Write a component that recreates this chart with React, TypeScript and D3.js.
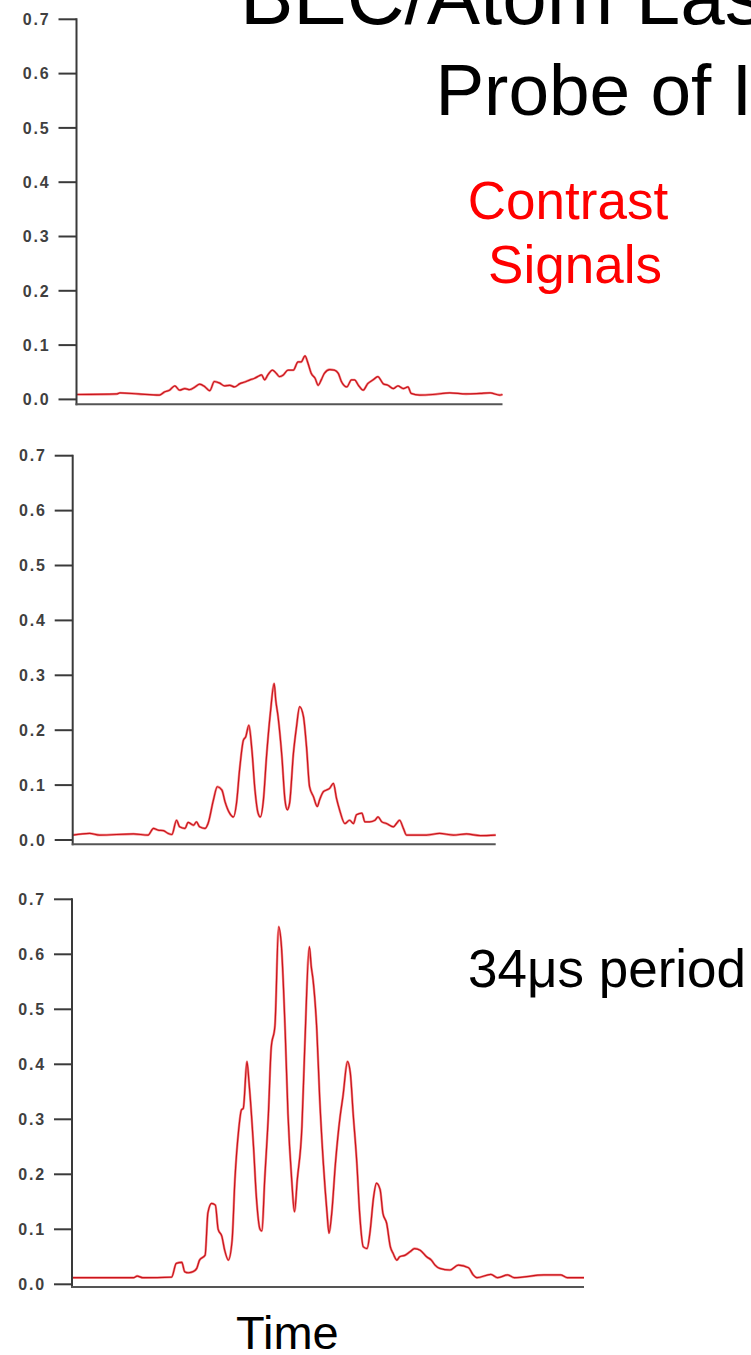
import React from "react";
import * as d3 from "d3";

// ---- data (time in µs, signal contrast) ----
const yTicks = [0, 0.1, 0.2, 0.3, 0.4, 0.5, 0.6, 0.7];
const timeDomain = [0, 550];

const signalTop: [number, number][] = [
  [0, 0.009], [52, 0.010], [56, 0.012], [80, 0.010], [107, 0.008], [114, 0.014], [120, 0.017],
  [127, 0.025], [133, 0.017], [140, 0.020], [146, 0.018], [153, 0.023], [159, 0.028], [166, 0.023],
  [172, 0.016], [178, 0.033], [185, 0.030], [191, 0.025], [198, 0.026], [204, 0.023], [211, 0.029],
  [217, 0.032], [224, 0.036], [230, 0.039], [234, 0.042], [239, 0.045], [243, 0.036], [247, 0.045],
  [253, 0.054], [258, 0.048], [262, 0.042], [267, 0.045], [273, 0.054], [280, 0.054], [286, 0.069],
  [290, 0.069], [295, 0.080], [299, 0.066], [303, 0.048], [308, 0.039], [312, 0.026], [316, 0.036],
  [320, 0.048], [327, 0.055], [333, 0.054], [338, 0.048], [342, 0.033], [349, 0.023], [355, 0.036],
  [359, 0.036], [364, 0.026], [370, 0.017], [376, 0.029], [383, 0.036], [389, 0.042], [396, 0.029],
  [402, 0.026], [409, 0.020], [415, 0.025], [422, 0.020], [428, 0.023], [432, 0.011], [443, 0.008],
  [460, 0.009], [482, 0.012], [503, 0.010], [521, 0.011], [534, 0.012], [546, 0.008], [550, 0.009],
];

const signalMiddle: [number, number][] = [
  [0, 0.009], [22, 0.012], [35, 0.009], [79, 0.011], [98, 0.009], [105, 0.021], [111, 0.018],
  [118, 0.017], [124, 0.012], [129, 0.010], [135, 0.036], [139, 0.024], [146, 0.021], [150, 0.032],
  [157, 0.027], [161, 0.033], [165, 0.024], [172, 0.021], [176, 0.030], [183, 0.073], [188, 0.097],
  [194, 0.091], [198, 0.070], [204, 0.049], [209, 0.042], [213, 0.067], [217, 0.128], [222, 0.182],
  [225, 0.188], [229, 0.209], [233, 0.164], [237, 0.091], [241, 0.049], [244, 0.042], [248, 0.073],
  [252, 0.152], [257, 0.231], [262, 0.285], [264, 0.255], [267, 0.225], [272, 0.152], [276, 0.073],
  [279, 0.055], [282, 0.067], [287, 0.158], [291, 0.206], [295, 0.243], [300, 0.225], [304, 0.170],
  [308, 0.097], [313, 0.079], [318, 0.061], [321, 0.073], [326, 0.088], [330, 0.091], [334, 0.094],
  [339, 0.103], [343, 0.076], [347, 0.055], [354, 0.030], [360, 0.036], [365, 0.030], [369, 0.046],
  [376, 0.049], [380, 0.033], [386, 0.033], [393, 0.036], [397, 0.042], [402, 0.033], [408, 0.030],
  [417, 0.024], [421, 0.030], [425, 0.036], [430, 0.021], [434, 0.009], [460, 0.009], [477, 0.012],
  [495, 0.009], [512, 0.011], [530, 0.008], [550, 0.009],
];

const signalBottom: [number, number][] = [
  [0, 0.012], [40, 0.012], [66, 0.012], [70, 0.015], [76, 0.012], [107, 0.013], [112, 0.038],
  [118, 0.040], [121, 0.023], [125, 0.021], [130, 0.023], [134, 0.029], [137, 0.044], [143, 0.053],
  [146, 0.130], [150, 0.147], [154, 0.144], [157, 0.100], [161, 0.087], [164, 0.062], [168, 0.044],
  [172, 0.080], [175, 0.190], [179, 0.280], [182, 0.317], [184, 0.320], [188, 0.405], [190, 0.370],
  [195, 0.250], [198, 0.160], [202, 0.100], [204, 0.097], [207, 0.190], [211, 0.310], [214, 0.430],
  [218, 0.470], [222, 0.650], [225, 0.614], [229, 0.460], [232, 0.310], [236, 0.190], [239, 0.132],
  [242, 0.190], [247, 0.287], [250, 0.430], [255, 0.614], [257, 0.578], [259, 0.553], [263, 0.462],
  [266, 0.341], [270, 0.220], [274, 0.129], [276, 0.093], [279, 0.129], [283, 0.220], [288, 0.305],
  [291, 0.341], [296, 0.405], [299, 0.384], [302, 0.311], [306, 0.220], [309, 0.129], [313, 0.068],
  [317, 0.065], [320, 0.093], [324, 0.159], [327, 0.184], [331, 0.172], [334, 0.129], [338, 0.111],
  [342, 0.068], [345, 0.056], [349, 0.044], [352, 0.050], [358, 0.053], [363, 0.059], [368, 0.065],
  [374, 0.062], [381, 0.050], [386, 0.044], [390, 0.035], [395, 0.029], [406, 0.026], [415, 0.035],
  [426, 0.030], [431, 0.017], [435, 0.012], [450, 0.018], [457, 0.012], [468, 0.017], [475, 0.012],
  [507, 0.017], [525, 0.017], [532, 0.012], [550, 0.012],
];

const titleLine1 = "BEC/Atom Laser";
const titleLine2 = "Probe of Interference";
const contrastLabel = ["Contrast", "Signals"];
const periodLabel = "34\u03bcs period";
const timeLabel = "Time";

// ---- layout ----
const W = 751;
const H = 1355;
const panels = [
  { data: signalTop, x0: 76.5, x1: 502.5, yTop: 19.3, yZero: 399.4, xAxisY: 404.3 },
  { data: signalMiddle, x0: 72.7, x1: 495.7, yTop: 455.7, yZero: 840, xAxisY: 844.3 },
  { data: signalBottom, x0: 72, x1: 584, yTop: 899.3, yZero: 1284.3, xAxisY: 1287 },
];

const fmt = d3.format(".1f");

function Panel({ p }: { p: (typeof panels)[number] }) {
  const x = d3.scaleLinear().domain(timeDomain).range([p.x0, p.x1]);
  const y = d3.scaleLinear().domain([0, 0.7]).range([p.yZero, p.yTop]);
  const line = d3
    .line<[number, number]>()
    .x((d) => x(d[0]))
    .y((d) => y(d[1]))
    .curve(d3.curveMonotoneX);
  const path = line(p.data) || "";
  return (
    <g>
      <path d={path} fill="none" stroke="#f03a3a" strokeWidth={2.4} strokeOpacity={0.6} strokeLinejoin="round" />
      <path d={path} fill="none" stroke="#c8141c" strokeWidth={1.2} strokeLinejoin="round" />
      {/* y axis */}
      <line x1={p.x0} x2={p.x0} y1={y(0.7) - 1} y2={p.xAxisY + 1} stroke="#3a3a3a" strokeWidth={2} />
      {/* x axis */}
      <line x1={p.x0 - 1} x2={p.x1} y1={p.xAxisY} y2={p.xAxisY} stroke="#555" strokeWidth={2} />
      {yTicks.map((t) => (
        <g key={t}>
          <line x1={p.x0 - 18} x2={p.x0} y1={y(t)} y2={y(t)} stroke="#3a3a3a" strokeWidth={2} />
          <text
            x={p.x0 - 26}
            y={y(t)}
            dy="0.36em"
            textAnchor="end"
            fontFamily="'Liberation Sans', Arial, sans-serif"
            fontWeight="bold"
            fontSize={16}
            letterSpacing={1.8}
            fill="#404040"
          >
            {fmt(t)}
          </text>
        </g>
      ))}
    </g>
  );
}

export default function App() {
  const font = "'Liberation Sans', Arial, Helvetica, sans-serif";
  return (
    <svg
      width={W}
      height={H}
      viewBox={`0 0 ${W} ${H}`}
      style={{ position: "absolute", left: 0, top: 0, background: "#fff", overflow: "hidden" }}
    >
      <rect width={W} height={H} fill="#fff" />
      {panels.map((p, i) => (
        <Panel key={i} p={p} />
      ))}
      <text x={240} y={24} fontFamily={font} fontSize={80} fill="#000">
        {titleLine1}
      </text>
      <text x={435.4} y={115} fontFamily={font} fontSize={73} fill="#000">
        {titleLine2}
      </text>
      <text x={568} y={219} textAnchor="middle" fontFamily={font} fontSize={53} fill="#ff0000">
        {contrastLabel[0]}
      </text>
      <text x={575} y={283} textAnchor="middle" fontFamily={font} fontSize={53} fill="#ff0000">
        {contrastLabel[1]}
      </text>
      <text x={468} y={987} fontFamily={font} fontSize={53} fill="#000">
        {periodLabel}
      </text>
      <text x={236} y={1349} fontFamily={font} fontSize={47} fill="#000">
        {timeLabel}
      </text>
    </svg>
  );
}
